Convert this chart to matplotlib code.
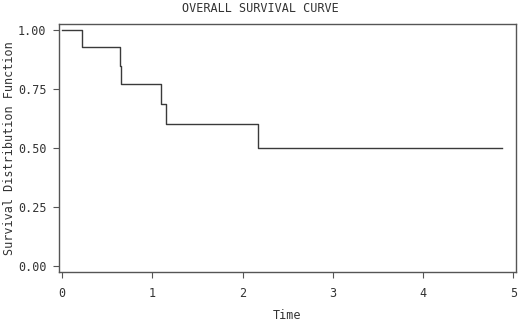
import matplotlib
matplotlib.use('Agg')
import matplotlib.pyplot as plt

# Kaplan-Meier estimate
time = [0.0, 0.225, 0.640, 0.650, 1.095, 1.150, 2.167, 4.87]
survival = [1.0, 0.929, 0.851, 0.774, 0.688, 0.602, 0.502, 0.502]

x_ticks = [0, 1, 2, 3, 4, 5]
y_ticks = [0.0, 0.25, 0.50, 0.75, 1.0]

plt.rcParams['font.family'] = 'DejaVu Sans Mono'
ink = '#333333'

fig = plt.figure(figsize=(5.2, 3.25), dpi=100)
ax = fig.add_axes([0.1135, 0.164, 0.8785, 0.762])

ax.step(time, survival, where='post', color='#3a3a3a', linewidth=1.0)

ax.set_xlim(-0.033, 5.027)
ax.set_ylim(-0.024, 1.027)
ax.set_xticks(x_ticks)
ax.set_yticks(y_ticks)
ax.set_xticklabels([str(t) for t in x_ticks])
ax.set_yticklabels(['%.2f' % v for v in y_ticks])
ax.tick_params(direction='out', length=4, width=0.8, colors='#555555',
               labelcolor=ink, labelsize=8.5, pad=5)
ax.tick_params(axis='x', pad=7)
for s in ax.spines.values():
    s.set_color('#555555')
    s.set_linewidth(1.0)

ax.set_xlabel('Time', fontsize=8.5, color=ink, va='center')
ax.xaxis.set_label_coords(0.5, -0.175)
ax.set_ylabel('Survival Distribution Function', fontsize=8.5, color=ink, va='center')
ax.yaxis.set_label_coords(-0.108, 0.5)
fig.text(0.5, 0.973, 'OVERALL SURVIVAL CURVE', ha='center', va='center',
         fontsize=8.5, color=ink)

fig.savefig('out.png', dpi=100, facecolor='white')
